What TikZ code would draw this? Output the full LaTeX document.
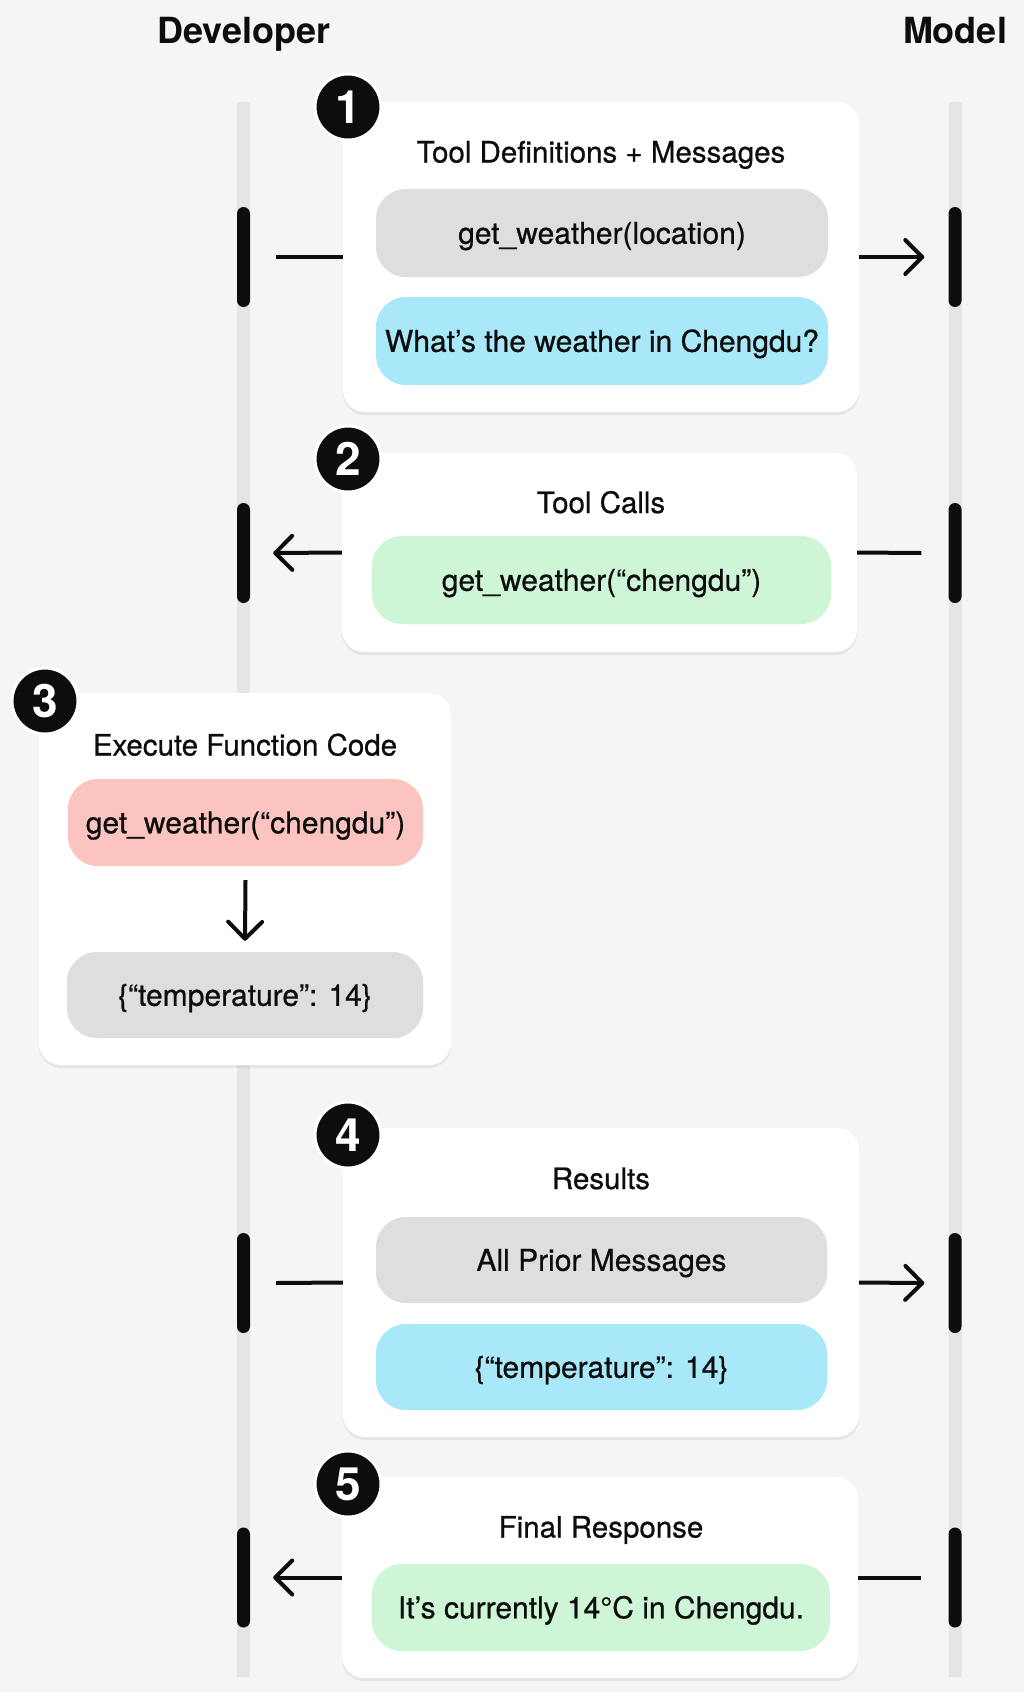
\documentclass[tikz,border=0pt]{standalone}
\usepackage{fontspec}
\setmainfont{TeX Gyre Heros}[UprightFeatures={FakeBold=0.7}]
\usetikzlibrary{arrows.meta,shadows}
\definecolor{bg}{HTML}{F5F5F5}
\definecolor{lanec}{HTML}{E5E5E7}
\definecolor{pgray}{HTML}{DEDEDE}
\definecolor{pblue}{HTML}{A8E8F9}
\definecolor{pgreen}{HTML}{CFF5D7}
\definecolor{pred}{HTML}{FCC4C0}
\definecolor{ink}{HTML}{0D0D0D}
\begin{document}
\begin{tikzpicture}[x=1pt,y=-1pt,
  card/.style={fill=white, rounded corners=22pt, inner sep=0pt,
    drop shadow={shadow xshift=0pt,shadow yshift=-3pt,opacity=0.13}},
  pill/.style={rounded corners=30pt, inner sep=0pt, text=ink,
    font=\fontsize{30}{36}\selectfont, text height=21.5pt, text depth=0pt},
  ttl/.style={inner sep=0pt, text=ink, font=\fontsize{29.5}{35}\selectfont,
    text height=21pt, text depth=0pt},
  head/.style={inner sep=0pt, text=ink, font=\bfseries\fontsize{36}{42}\selectfont,
    text height=26pt, text depth=0pt},
  badge/.style={circle, fill=ink, draw=white, line width=3pt, minimum size=66pt,
    inner sep=0pt, text=white, font=\bfseries\fontsize{46}{50}\selectfont},
  lanebar/.style={fill=lanec, minimum width=13pt, inner sep=0pt},
  actbar/.style={fill=ink, rounded corners=6.5pt, minimum width=13pt,
    minimum height=100pt, inner sep=0pt},
  conn/.style={draw=ink, line width=4pt},
  >={Straight Barb[length=17pt,width=34pt,round]}
]
\useasboundingbox (0,0) rectangle (1024,1692);
\fill[bg] (0,0) rectangle (1024,1692);

% headers
\node[head] (dev) at (244,30) {Developer};
\node[head] (mod) at (955,30) {Model};

% lanes
\node[lanebar, minimum height=1575pt] (laneL) at (243.5,889.5) {};
\node[lanebar, minimum height=1575pt] (laneR) at (955,889.5) {};

% activation bars
\node[actbar] (lb1) at (243.5,257) {};
\node[actbar] (rb1) at (955,257) {};
\node[actbar] (lb2) at (243.5,553) {};
\node[actbar] (rb2) at (955,553) {};
\node[actbar] (lb4) at (243.5,1283) {};
\node[actbar] (rb4) at (955,1283) {};
\node[actbar] (lb5) at (243.5,1577.5) {};
\node[actbar] (rb5) at (955,1577.5) {};

% cards
\node[card, minimum width=516pt, minimum height=310pt] (box1) at (601,257) {};
\node[card, minimum width=515pt, minimum height=199pt] (box2) at (599.5,552.5) {};
\node[card, minimum width=412pt, minimum height=372pt] (box3) at (245,879) {};
\node[card, minimum width=516pt, minimum height=309pt] (box4) at (601,1282.5) {};
\node[card, minimum width=516pt, minimum height=201pt] (box5) at (600,1577.5) {};

% step 1
\node[ttl] (t1) at (601,152) {Tool Definitions + Messages};
\node[pill, fill=pgray, minimum width=452pt, minimum height=88pt] (p1a) at (602,233) {get\_weather(location)};
\node[pill, fill=pblue, minimum width=452pt, minimum height=88pt] (p1b) at (602,341) {What’s the weather in Chengdu?};

% step 2
\node[ttl] (t2) at (601,502.5) {Tool Calls};
\node[pill, fill=pgreen, minimum width=459pt, minimum height=88pt] (p2) at (601.5,580) {get\_weather(“chengdu”)};

% step 3
\node[ttl] (t3) at (245,745) {Execute Function Code};
\node[pill, fill=pred, minimum width=355pt, minimum height=87pt] (p3a) at (245.5,822.5) {get\_weather(“chengdu”)};
\node[pill, fill=pgray, minimum width=356pt, minimum height=86pt] (p3b) at (245,995) {\{“temperature”: 14\}};

% step 4
\node[ttl] (t4) at (601,1178.5) {Results};
\node[pill, fill=pgray, minimum width=451pt, minimum height=86pt] (p4a) at (601.5,1260) {All Prior Messages};
\node[pill, fill=pblue, minimum width=451pt, minimum height=86pt] (p4b) at (601.5,1367) {\{“temperature”: 14\}};

% step 5
\node[ttl] (t5) at (601,1527) {Final Response};
\node[pill, fill=pgreen, minimum width=458pt, minimum height=87pt] (p5) at (601,1607.5) {It’s currently 14°C in Chengdu.};

% badges
\node[badge] (n1) at (348,107) {1};
\node[badge] (n2) at (348,459) {2};
\node[badge] (n3) at (45,701) {3};
\node[badge] (n4) at (348,1135) {4};
\node[badge] (n5) at (348,1484) {5};

% connectors
\draw[conn] ([xshift=26pt]lb1.east) -- (box1.west);
\draw[conn,->] (box1.east) -- ([xshift=-24pt]rb1.west);
\draw[conn] ([xshift=-27pt]rb2.west) -- (box2.east);
\draw[conn,->] (box2.west) -- ([xshift=23pt]lb2.east);
\draw[conn,->] ([yshift=-14pt]p3a.south) -- ([yshift=11pt]p3b.north);
\draw[conn] ([xshift=26pt]lb4.east) -- (box4.west);
\draw[conn,->] (box4.east) -- ([xshift=-24pt]rb4.west);
\draw[conn] ([xshift=-27pt]rb5.west) -- (box5.east);
\draw[conn,->] (box5.west) -- ([xshift=23pt]lb5.east);
\end{tikzpicture}
\end{document}
